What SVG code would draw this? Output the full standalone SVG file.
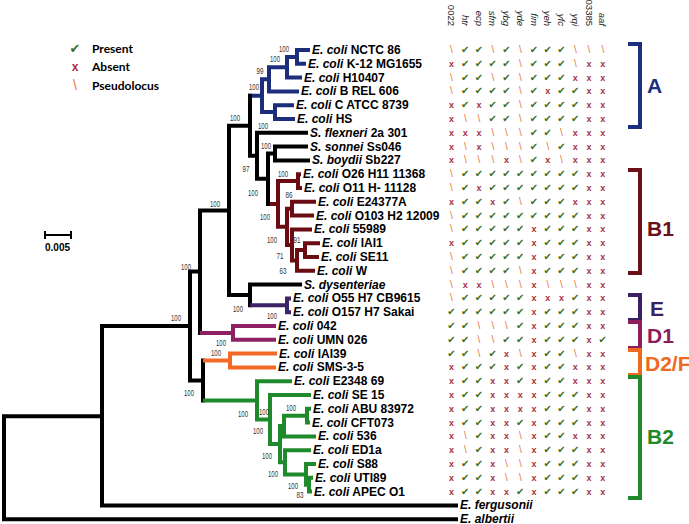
<svg xmlns="http://www.w3.org/2000/svg" width="689" height="524" viewBox="0 0 689 524">
<style>
.t{fill:none;stroke-width:4;stroke-linecap:square}
.k{stroke:#000}.bl{stroke:#1c2d7c}.mr{stroke:#6b0b12}.pu{stroke:#3d2366}.mg{stroke:#8e2163}.or{stroke:#f26a25}.gr{stroke:#1f8a2c}
.tl{font-family:"Liberation Sans",Arial,sans-serif;font-weight:bold;font-size:12px;fill:#000}
.bs{font-family:"Liberation Sans",Arial,sans-serif;font-size:9px;fill:#333;text-anchor:middle}
.m{text-anchor:middle;font-family:"DejaVu Sans",sans-serif;font-size:10px}
.g{font-family:"DejaVu Sans",sans-serif;font-size:10px;fill:#3f6f1f}
.r{font-family:"Liberation Sans",Arial,sans-serif;font-weight:bold;font-size:9px;fill:#a8323c}
.o{font-family:"Liberation Sans",Arial,sans-serif;font-size:10px;fill:#e8743b}
.hd{font-family:"Liberation Sans",Arial,sans-serif;font-size:9.5px;fill:#222;text-anchor:end}
.lg{font-family:"Lato","Liberation Sans",sans-serif;font-weight:bold;font-size:12px;fill:#000}
.br{fill:none;stroke-width:4}
.bt{font-family:"Liberation Sans",Arial,sans-serif;font-weight:bold;font-size:21px}
</style>
<g id="legend">
<text x="75" y="53" text-anchor="middle" style="font-family:'DejaVu Sans',sans-serif;font-size:13px;fill:#3f6f1f">✔</text><text class="lg" x="92" y="52.5">Present</text>
<text x="75" y="71" text-anchor="middle" style="font-family:'Liberation Sans',sans-serif;font-weight:bold;font-size:12px;fill:#a8323c">x</text><text class="lg" x="92" y="71">Absent</text>
<text x="75" y="90" text-anchor="middle" style="font-family:'Liberation Sans',sans-serif;font-size:14px;fill:#e8743b">\</text><text class="lg" x="92" y="89.5">Pseudolocus</text>
</g>
<g id="scale">
<path d="M45,235 H71 M45,231 V239 M71,231 V239" fill="none" stroke="#000" stroke-width="2"/>
<text x="45" y="251" style="font-family:'Liberation Sans',Arial,sans-serif;font-weight:bold;font-size:10px">0.005</text>
</g>
<g id="connectors">
<path class="t bl" d="M297,50 V63.8 M297,50 H308 M297,63.8 H304 M287,56.9 V77.6 M287,56.9 H297 M287,77.6 H300 M269,67.3 V91.4 M269,67.3 H287 M269,91.4 H297 M275,105.2 V119 M275,105.2 H292 M275,119 H293 M262,79.3 V112.1 M262,79.3 H269 M262,112.1 H275 M250,95.7 H262"/>
<path class="t k" d="M250,95.7 V155.8 M229,125.7 H250 M257,132.8 V178.7 M250,155.8 H257 M257,132.8 H306 M268,153.5 V204 M257,178.7 H268 M268,153.5 H275 M275,146.6 V160.4 M275,146.6 H306 M275,160.4 H308 M268,204 H272 M229,125.7 V295 M200,210.4 H229 M250,284.6 V305.3 M229,295 H250 M250,284.6 H300 M200,210.4 V332.9 M190,271.6 H200 M190,271.6 V380.4 M102,326 H190 M203,360.5 V400.4 M190,380.4 H203 M102,326 V505.4 M4,416.3 H102 M102,505.4 H456 M4,416.3 V519.2 M4,519.2 H456"/>
<path class="t mr" d="M272,204 H278 M278,181.1 V226.8 M278,181.1 H298 M278,226.8 H287 M298,174.2 V188 M298,174.2 H299 M298,188 H300 M287,208.7 V245 M287,208.7 H292 M287,245 H292 M292,201.8 V215.6 M292,201.8 H314 M292,215.6 H312 M292,229.4 V260.5 M292,229.4 H310 M292,260.5 H297 M297,250.1 V270.8 M297,250.1 H305 M297,270.8 H313 M305,243.2 V257 M305,243.2 H318 M305,257 H317"/>
<path class="t pu" d="M252,305.3 H287 M287,298.4 V312.2 M287,298.4 H289 M287,312.2 H289"/>
<path class="t mg" d="M202,332.9 H233 M233,326 V339.8 M233,326 H274 M233,339.8 H274"/>
<path class="t or" d="M205,360.5 H230 M230,353.6 V367.4 M230,353.6 H275 M230,367.4 H274"/>
<path class="t gr" d="M205,400.4 H257 M257,381.2 V419.5 M257,381.2 H290 M257,419.5 H270 M270,395 V444.1 M270,395 H309 M270,444.1 H280 M280,426 V462.3 M280,426 H284 M280,462.3 H285 M284,415.7 V436.4 M284,415.7 H307 M284,436.4 H314 M307,408.8 V422.6 M307,408.8 H309 M307,422.6 H308 M285,450.2 V474.4 M285,450.2 H309 M285,474.4 H306 M306,464 V484.7 M306,464 H314 M306,484.7 H309 M309,477.8 V491.6 M309,477.8 H311 M309,491.6 H310"/>
</g>
<g id="bootstrap">
<text class="bs" x="284" y="51.5" textLength="10" lengthAdjust="spacingAndGlyphs">100</text>
<text class="bs" x="275" y="61.5" textLength="10" lengthAdjust="spacingAndGlyphs">100</text>
<text class="bs" x="260" y="73.5" textLength="7" lengthAdjust="spacingAndGlyphs">99</text>
<text class="bs" x="254" y="89.5" textLength="10" lengthAdjust="spacingAndGlyphs">100</text>
<text class="bs" x="235" y="120.5" textLength="10" lengthAdjust="spacingAndGlyphs">100</text>
<text class="bs" x="263" y="128.5" textLength="10" lengthAdjust="spacingAndGlyphs">100</text>
<text class="bs" x="266" y="148.5" textLength="10" lengthAdjust="spacingAndGlyphs">100</text>
<text class="bs" x="246" y="171.5" textLength="7" lengthAdjust="spacingAndGlyphs">97</text>
<text class="bs" x="283" y="176.5" textLength="10" lengthAdjust="spacingAndGlyphs">100</text>
<text class="bs" x="253" y="195.5" textLength="10" lengthAdjust="spacingAndGlyphs">100</text>
<text class="bs" x="289" y="197.5" textLength="7" lengthAdjust="spacingAndGlyphs">86</text>
<text class="bs" x="215" y="206.5" textLength="10" lengthAdjust="spacingAndGlyphs">100</text>
<text class="bs" x="265" y="219.5" textLength="10" lengthAdjust="spacingAndGlyphs">100</text>
<text class="bs" x="272" y="242.5" textLength="10" lengthAdjust="spacingAndGlyphs">100</text>
<text class="bs" x="297" y="242.5" textLength="7" lengthAdjust="spacingAndGlyphs">91</text>
<text class="bs" x="280" y="258.5" textLength="7" lengthAdjust="spacingAndGlyphs">71</text>
<text class="bs" x="283" y="273.5" textLength="7" lengthAdjust="spacingAndGlyphs">63</text>
<text class="bs" x="186" y="269.5" textLength="10" lengthAdjust="spacingAndGlyphs">100</text>
<text class="bs" x="238" y="311.5" textLength="10" lengthAdjust="spacingAndGlyphs">100</text>
<text class="bs" x="272" y="319" textLength="10" lengthAdjust="spacingAndGlyphs">100</text>
<text class="bs" x="176" y="320.5" textLength="10" lengthAdjust="spacingAndGlyphs">100</text>
<text class="bs" x="221" y="345.5" textLength="10" lengthAdjust="spacingAndGlyphs">100</text>
<text class="bs" x="216" y="356" textLength="10" lengthAdjust="spacingAndGlyphs">100</text>
<text class="bs" x="189" y="395.5" textLength="10" lengthAdjust="spacingAndGlyphs">100</text>
<text class="bs" x="243" y="416.5" textLength="10" lengthAdjust="spacingAndGlyphs">100</text>
<text class="bs" x="264" y="414.5" textLength="10" lengthAdjust="spacingAndGlyphs">100</text>
<text class="bs" x="291" y="410.5" textLength="10" lengthAdjust="spacingAndGlyphs">100</text>
<text class="bs" x="258" y="433.5" textLength="10" lengthAdjust="spacingAndGlyphs">100</text>
<text class="bs" x="267" y="458.5" textLength="10" lengthAdjust="spacingAndGlyphs">100</text>
<text class="bs" x="273" y="476.5" textLength="10" lengthAdjust="spacingAndGlyphs">100</text>
<text class="bs" x="293" y="488.5" textLength="10" lengthAdjust="spacingAndGlyphs">100</text>
<text class="bs" x="300" y="497.5" textLength="7" lengthAdjust="spacingAndGlyphs">83</text>
</g>
<g id="taxa">
<text id="t1" class="tl" x="312" y="54"><tspan font-style="italic">E. coli</tspan> NCTC 86</text>
<text id="t2" class="tl" x="308" y="67.8"><tspan font-style="italic">E. coli</tspan> K-12 MG1655</text>
<text id="t3" class="tl" x="304" y="81.6"><tspan font-style="italic">E. coli</tspan> H10407</text>
<text id="t4" class="tl" x="301" y="95.4"><tspan font-style="italic">E. coli</tspan> B REL 606</text>
<text id="t5" class="tl" x="296" y="109.2"><tspan font-style="italic">E. coli</tspan> C ATCC 8739</text>
<text id="t6" class="tl" x="297" y="123"><tspan font-style="italic">E. coli</tspan> HS</text>
<text id="t7" class="tl" x="310" y="136.8"><tspan font-style="italic">S. flexneri</tspan> 2a 301</text>
<text id="t8" class="tl" x="310" y="150.6"><tspan font-style="italic">S. sonnei</tspan> Ss046</text>
<text id="t9" class="tl" x="312" y="164.4"><tspan font-style="italic">S. boydii</tspan> Sb227</text>
<text id="t10" class="tl" x="303" y="178.2"><tspan font-style="italic">E. coli</tspan> O26 H11 11368</text>
<text id="t11" class="tl" x="304" y="192"><tspan font-style="italic">E. coli</tspan> O11 H- 11128</text>
<text id="t12" class="tl" x="318" y="205.8"><tspan font-style="italic">E. coli</tspan> E24377A</text>
<text id="t13" class="tl" x="316" y="219.6"><tspan font-style="italic">E. coli</tspan> O103 H2 12009</text>
<text id="t14" class="tl" x="314" y="233.4"><tspan font-style="italic">E. coli</tspan> 55989</text>
<text id="t15" class="tl" x="322" y="247.2"><tspan font-style="italic">E. coli</tspan> IAI1</text>
<text id="t16" class="tl" x="321" y="261"><tspan font-style="italic">E. coli</tspan> SE11</text>
<text id="t17" class="tl" x="317" y="274.8"><tspan font-style="italic">E. coli</tspan> W</text>
<text id="t18" class="tl" x="304" y="288.6"><tspan font-style="italic">S. dysenteriae</tspan></text>
<text id="t19" class="tl" x="293" y="302.4"><tspan font-style="italic">E. coli</tspan> O55 H7 CB9615</text>
<text id="t20" class="tl" x="293" y="316.2"><tspan font-style="italic">E. coli</tspan> O157 H7 Sakai</text>
<text id="t21" class="tl" x="278" y="330"><tspan font-style="italic">E. coli</tspan> 042</text>
<text id="t22" class="tl" x="278" y="343.8"><tspan font-style="italic">E. coli</tspan> UMN 026</text>
<text id="t23" class="tl" x="279" y="357.6"><tspan font-style="italic">E. coli</tspan> IAI39</text>
<text id="t24" class="tl" x="278" y="371.4"><tspan font-style="italic">E. coli</tspan> SMS-3-5</text>
<text id="t25" class="tl" x="294" y="385.2"><tspan font-style="italic">E. coli</tspan> E2348 69</text>
<text id="t26" class="tl" x="313" y="399"><tspan font-style="italic">E. coli</tspan> SE 15</text>
<text id="t27" class="tl" x="313" y="412.8"><tspan font-style="italic">E. coli</tspan> ABU 83972</text>
<text id="t28" class="tl" x="312" y="426.6"><tspan font-style="italic">E. coli</tspan> CFT073</text>
<text id="t29" class="tl" x="318" y="440.4"><tspan font-style="italic">E. coli</tspan> 536</text>
<text id="t30" class="tl" x="313" y="454.2"><tspan font-style="italic">E. coli</tspan> ED1a</text>
<text id="t31" class="tl" x="318" y="468"><tspan font-style="italic">E. coli</tspan> S88</text>
<text id="t32" class="tl" x="315" y="481.8"><tspan font-style="italic">E. coli</tspan> UTI89</text>
<text id="t33" class="tl" x="314" y="495.6"><tspan font-style="italic">E. coli</tspan> APEC O1</text>
<text id="t34" class="tl" x="460" y="509.4"><tspan font-style="italic">E. fergusonii</tspan></text>
<text id="t35" class="tl" x="460" y="522.5"><tspan font-style="italic">E. albertii</tspan></text>
</g>
<g id="headers">
<text class="hd" transform="translate(448,26) rotate(90)">0022</text>
<text class="hd" transform="translate(461.8,26) rotate(90)" font-style="italic">htr</text>
<text class="hd" transform="translate(475.5,26) rotate(90)" font-style="italic">ecp</text>
<text class="hd" transform="translate(489.3,26) rotate(90)" font-style="italic">sfm</text>
<text class="hd" transform="translate(503,26) rotate(90)" font-style="italic">ybg</text>
<text class="hd" transform="translate(516.8,26) rotate(90)" font-style="italic">yde</text>
<text class="hd" transform="translate(530.5,26) rotate(90)" font-style="italic">fim</text>
<text class="hd" transform="translate(544.3,26) rotate(90)" font-style="italic">yeh</text>
<text class="hd" transform="translate(558,26) rotate(90)" font-style="italic">yfc</text>
<text class="hd" transform="translate(571.8,26) rotate(90)" font-style="italic">yqi</text>
<text class="hd" transform="translate(585.5,26) rotate(90)">03385</text>
<text class="hd" transform="translate(599.3,26) rotate(90)" font-style="italic">aaf</text>
</g>
<g id="matrix">
<text class="m" x="451.5 465.3 479 492.8 506.5 520.3 534 547.8 561.5 575.3 589 602.8" y="53"><tspan class="o">\</tspan><tspan class="g">✔</tspan><tspan class="g">✔</tspan><tspan class="o">\</tspan><tspan class="g">✔</tspan><tspan class="o">\</tspan><tspan class="g">✔</tspan><tspan class="g">✔</tspan><tspan class="g">✔</tspan><tspan class="o">\</tspan><tspan class="o">\</tspan><tspan class="o">\</tspan></text>
<text class="m" x="451.5 465.3 479 492.8 506.5 520.3 534 547.8 561.5 575.3 589 602.8" y="66.8"><tspan class="r">x</tspan><tspan class="g">✔</tspan><tspan class="g">✔</tspan><tspan class="g">✔</tspan><tspan class="g">✔</tspan><tspan class="o">\</tspan><tspan class="g">✔</tspan><tspan class="g">✔</tspan><tspan class="g">✔</tspan><tspan class="o">\</tspan><tspan class="r">x</tspan><tspan class="r">x</tspan></text>
<text class="m" x="451.5 465.3 479 492.8 506.5 520.3 534 547.8 561.5 575.3 589 602.8" y="80.6"><tspan class="o">\</tspan><tspan class="g">✔</tspan><tspan class="g">✔</tspan><tspan class="o">\</tspan><tspan class="g">✔</tspan><tspan class="o">\</tspan><tspan class="g">✔</tspan><tspan class="g">✔</tspan><tspan class="g">✔</tspan><tspan class="r">x</tspan><tspan class="r">x</tspan><tspan class="r">x</tspan></text>
<text class="m" x="451.5 465.3 479 492.8 506.5 520.3 534 547.8 561.5 575.3 589 602.8" y="94.4"><tspan class="o">\</tspan><tspan class="g">✔</tspan><tspan class="g">✔</tspan><tspan class="g">✔</tspan><tspan class="g">✔</tspan><tspan class="o">\</tspan><tspan class="g">✔</tspan><tspan class="r">x</tspan><tspan class="g">✔</tspan><tspan class="g">✔</tspan><tspan class="r">x</tspan><tspan class="r">x</tspan></text>
<text class="m" x="451.5 465.3 479 492.8 506.5 520.3 534 547.8 561.5 575.3 589 602.8" y="108.2"><tspan class="r">x</tspan><tspan class="g">✔</tspan><tspan class="r">x</tspan><tspan class="g">✔</tspan><tspan class="g">✔</tspan><tspan class="o">\</tspan><tspan class="g">✔</tspan><tspan class="g">✔</tspan><tspan class="g">✔</tspan><tspan class="g">✔</tspan><tspan class="r">x</tspan><tspan class="r">x</tspan></text>
<text class="m" x="451.5 465.3 479 492.8 506.5 520.3 534 547.8 561.5 575.3 589 602.8" y="122"><tspan class="r">x</tspan><tspan class="o">\</tspan><tspan class="o">\</tspan><tspan class="g">✔</tspan><tspan class="g">✔</tspan><tspan class="o">\</tspan><tspan class="g">✔</tspan><tspan class="g">✔</tspan><tspan class="g">✔</tspan><tspan class="g">✔</tspan><tspan class="r">x</tspan><tspan class="r">x</tspan></text>
<text class="m" x="451.5 465.3 479 492.8 506.5 520.3 534 547.8 561.5 575.3 589 602.8" y="135.8"><tspan class="r">x</tspan><tspan class="r">x</tspan><tspan class="r">x</tspan><tspan class="o">\</tspan><tspan class="o">\</tspan><tspan class="o">\</tspan><tspan class="g">✔</tspan><tspan class="g">✔</tspan><tspan class="o">\</tspan><tspan class="r">x</tspan><tspan class="r">x</tspan><tspan class="r">x</tspan></text>
<text class="m" x="451.5 465.3 479 492.8 506.5 520.3 534 547.8 561.5 575.3 589 602.8" y="149.6"><tspan class="r">x</tspan><tspan class="o">\</tspan><tspan class="r">x</tspan><tspan class="o">\</tspan><tspan class="o">\</tspan><tspan class="o">\</tspan><tspan class="g">✔</tspan><tspan class="o">\</tspan><tspan class="g">✔</tspan><tspan class="r">x</tspan><tspan class="r">x</tspan><tspan class="r">x</tspan></text>
<text class="m" x="451.5 465.3 479 492.8 506.5 520.3 534 547.8 561.5 575.3 589 602.8" y="163.4"><tspan class="r">x</tspan><tspan class="o">\</tspan><tspan class="o">\</tspan><tspan class="o">\</tspan><tspan class="r">x</tspan><tspan class="o">\</tspan><tspan class="g">✔</tspan><tspan class="r">x</tspan><tspan class="o">\</tspan><tspan class="r">x</tspan><tspan class="r">x</tspan><tspan class="r">x</tspan></text>
<text class="m" x="451.5 465.3 479 492.8 506.5 520.3 534 547.8 561.5 575.3 589 602.8" y="177.2"><tspan class="o">\</tspan><tspan class="g">✔</tspan><tspan class="g">✔</tspan><tspan class="g">✔</tspan><tspan class="g">✔</tspan><tspan class="g">✔</tspan><tspan class="g">✔</tspan><tspan class="g">✔</tspan><tspan class="g">✔</tspan><tspan class="g">✔</tspan><tspan class="r">x</tspan><tspan class="r">x</tspan></text>
<text class="m" x="451.5 465.3 479 492.8 506.5 520.3 534 547.8 561.5 575.3 589 602.8" y="191"><tspan class="o">\</tspan><tspan class="g">✔</tspan><tspan class="r">x</tspan><tspan class="g">✔</tspan><tspan class="g">✔</tspan><tspan class="g">✔</tspan><tspan class="g">✔</tspan><tspan class="g">✔</tspan><tspan class="g">✔</tspan><tspan class="g">✔</tspan><tspan class="r">x</tspan><tspan class="r">x</tspan></text>
<text class="m" x="451.5 465.3 479 492.8 506.5 520.3 534 547.8 561.5 575.3 589 602.8" y="204.8"><tspan class="r">x</tspan><tspan class="g">✔</tspan><tspan class="g">✔</tspan><tspan class="r">x</tspan><tspan class="g">✔</tspan><tspan class="o">\</tspan><tspan class="g">✔</tspan><tspan class="g">✔</tspan><tspan class="g">✔</tspan><tspan class="r">x</tspan><tspan class="r">x</tspan><tspan class="r">x</tspan></text>
<text class="m" x="451.5 465.3 479 492.8 506.5 520.3 534 547.8 561.5 575.3 589 602.8" y="218.6"><tspan class="o">\</tspan><tspan class="g">✔</tspan><tspan class="g">✔</tspan><tspan class="g">✔</tspan><tspan class="g">✔</tspan><tspan class="g">✔</tspan><tspan class="g">✔</tspan><tspan class="g">✔</tspan><tspan class="g">✔</tspan><tspan class="g">✔</tspan><tspan class="r">x</tspan><tspan class="r">x</tspan></text>
<text class="m" x="451.5 465.3 479 492.8 506.5 520.3 534 547.8 561.5 575.3 589 602.8" y="232.4"><tspan class="o">\</tspan><tspan class="g">✔</tspan><tspan class="g">✔</tspan><tspan class="g">✔</tspan><tspan class="g">✔</tspan><tspan class="g">✔</tspan><tspan class="r">x</tspan><tspan class="g">✔</tspan><tspan class="g">✔</tspan><tspan class="g">✔</tspan><tspan class="r">x</tspan><tspan class="r">x</tspan></text>
<text class="m" x="451.5 465.3 479 492.8 506.5 520.3 534 547.8 561.5 575.3 589 602.8" y="246.2"><tspan class="r">x</tspan><tspan class="g">✔</tspan><tspan class="g">✔</tspan><tspan class="g">✔</tspan><tspan class="g">✔</tspan><tspan class="g">✔</tspan><tspan class="r">x</tspan><tspan class="g">✔</tspan><tspan class="g">✔</tspan><tspan class="g">✔</tspan><tspan class="r">x</tspan><tspan class="r">x</tspan></text>
<text class="m" x="451.5 465.3 479 492.8 506.5 520.3 534 547.8 561.5 575.3 589 602.8" y="260"><tspan class="o">\</tspan><tspan class="g">✔</tspan><tspan class="g">✔</tspan><tspan class="g">✔</tspan><tspan class="g">✔</tspan><tspan class="g">✔</tspan><tspan class="r">x</tspan><tspan class="g">✔</tspan><tspan class="g">✔</tspan><tspan class="g">✔</tspan><tspan class="r">x</tspan><tspan class="r">x</tspan></text>
<text class="m" x="451.5 465.3 479 492.8 506.5 520.3 534 547.8 561.5 575.3 589 602.8" y="273.8"><tspan class="o">\</tspan><tspan class="g">✔</tspan><tspan class="g">✔</tspan><tspan class="g">✔</tspan><tspan class="g">✔</tspan><tspan class="o">\</tspan><tspan class="r">x</tspan><tspan class="g">✔</tspan><tspan class="g">✔</tspan><tspan class="g">✔</tspan><tspan class="r">x</tspan><tspan class="r">x</tspan></text>
<text class="m" x="451.5 465.3 479 492.8 506.5 520.3 534 547.8 561.5 575.3 589 602.8" y="287.6"><tspan class="o">\</tspan><tspan class="r">x</tspan><tspan class="r">x</tspan><tspan class="o">\</tspan><tspan class="o">\</tspan><tspan class="o">\</tspan><tspan class="r">x</tspan><tspan class="o">\</tspan><tspan class="o">\</tspan><tspan class="o">\</tspan><tspan class="r">x</tspan><tspan class="r">x</tspan></text>
<text class="m" x="451.5 465.3 479 492.8 506.5 520.3 534 547.8 561.5 575.3 589 602.8" y="301.4"><tspan class="o">\</tspan><tspan class="g">✔</tspan><tspan class="g">✔</tspan><tspan class="g">✔</tspan><tspan class="g">✔</tspan><tspan class="g">✔</tspan><tspan class="r">x</tspan><tspan class="r">x</tspan><tspan class="r">x</tspan><tspan class="g">✔</tspan><tspan class="r">x</tspan><tspan class="r">x</tspan></text>
<text class="m" x="451.5 465.3 479 492.8 506.5 520.3 534 547.8 561.5 575.3 589 602.8" y="315.2"><tspan class="g">✔</tspan><tspan class="g">✔</tspan><tspan class="g">✔</tspan><tspan class="g">✔</tspan><tspan class="g">✔</tspan><tspan class="g">✔</tspan><tspan class="r">x</tspan><tspan class="g">✔</tspan><tspan class="g">✔</tspan><tspan class="g">✔</tspan><tspan class="r">x</tspan><tspan class="r">x</tspan></text>
<text class="m" x="451.5 465.3 479 492.8 506.5 520.3 534 547.8 561.5 575.3 589 602.8" y="329"><tspan class="g">✔</tspan><tspan class="g">✔</tspan><tspan class="o">\</tspan><tspan class="o">\</tspan><tspan class="o">\</tspan><tspan class="g">✔</tspan><tspan class="r">x</tspan><tspan class="g">✔</tspan><tspan class="g">✔</tspan><tspan class="g">✔</tspan><tspan class="r">x</tspan><tspan class="r">x</tspan></text>
<text class="m" x="451.5 465.3 479 492.8 506.5 520.3 534 547.8 561.5 575.3 589 602.8" y="342.8"><tspan class="g">✔</tspan><tspan class="g">✔</tspan><tspan class="o">\</tspan><tspan class="o">\</tspan><tspan class="g">✔</tspan><tspan class="g">✔</tspan><tspan class="r">x</tspan><tspan class="g">✔</tspan><tspan class="g">✔</tspan><tspan class="g">✔</tspan><tspan class="r">x</tspan><tspan class="g">✔</tspan></text>
<text class="m" x="451.5 465.3 479 492.8 506.5 520.3 534 547.8 561.5 575.3 589 602.8" y="356.6"><tspan class="g">✔</tspan><tspan class="g">✔</tspan><tspan class="o">\</tspan><tspan class="g">✔</tspan><tspan class="r">x</tspan><tspan class="o">\</tspan><tspan class="r">x</tspan><tspan class="g">✔</tspan><tspan class="g">✔</tspan><tspan class="o">\</tspan><tspan class="r">x</tspan><tspan class="r">x</tspan></text>
<text class="m" x="451.5 465.3 479 492.8 506.5 520.3 534 547.8 561.5 575.3 589 602.8" y="370.4"><tspan class="r">x</tspan><tspan class="g">✔</tspan><tspan class="g">✔</tspan><tspan class="g">✔</tspan><tspan class="r">x</tspan><tspan class="g">✔</tspan><tspan class="r">x</tspan><tspan class="g">✔</tspan><tspan class="g">✔</tspan><tspan class="r">x</tspan><tspan class="r">x</tspan><tspan class="r">x</tspan></text>
<text class="m" x="451.5 465.3 479 492.8 506.5 520.3 534 547.8 561.5 575.3 589 602.8" y="384.2"><tspan class="r">x</tspan><tspan class="g">✔</tspan><tspan class="g">✔</tspan><tspan class="r">x</tspan><tspan class="r">x</tspan><tspan class="g">✔</tspan><tspan class="r">x</tspan><tspan class="g">✔</tspan><tspan class="g">✔</tspan><tspan class="r">x</tspan><tspan class="r">x</tspan><tspan class="r">x</tspan></text>
<text class="m" x="451.5 465.3 479 492.8 506.5 520.3 534 547.8 561.5 575.3 589 602.8" y="398"><tspan class="r">x</tspan><tspan class="g">✔</tspan><tspan class="g">✔</tspan><tspan class="r">x</tspan><tspan class="r">x</tspan><tspan class="r">x</tspan><tspan class="r">x</tspan><tspan class="g">✔</tspan><tspan class="g">✔</tspan><tspan class="g">✔</tspan><tspan class="r">x</tspan><tspan class="r">x</tspan></text>
<text class="m" x="451.5 465.3 479 492.8 506.5 520.3 534 547.8 561.5 575.3 589 602.8" y="411.8"><tspan class="r">x</tspan><tspan class="g">✔</tspan><tspan class="g">✔</tspan><tspan class="r">x</tspan><tspan class="r">x</tspan><tspan class="r">x</tspan><tspan class="r">x</tspan><tspan class="g">✔</tspan><tspan class="g">✔</tspan><tspan class="g">✔</tspan><tspan class="r">x</tspan><tspan class="r">x</tspan></text>
<text class="m" x="451.5 465.3 479 492.8 506.5 520.3 534 547.8 561.5 575.3 589 602.8" y="425.6"><tspan class="r">x</tspan><tspan class="g">✔</tspan><tspan class="g">✔</tspan><tspan class="r">x</tspan><tspan class="r">x</tspan><tspan class="g">✔</tspan><tspan class="r">x</tspan><tspan class="g">✔</tspan><tspan class="g">✔</tspan><tspan class="g">✔</tspan><tspan class="r">x</tspan><tspan class="r">x</tspan></text>
<text class="m" x="451.5 465.3 479 492.8 506.5 520.3 534 547.8 561.5 575.3 589 602.8" y="439.4"><tspan class="r">x</tspan><tspan class="o">\</tspan><tspan class="g">✔</tspan><tspan class="r">x</tspan><tspan class="r">x</tspan><tspan class="o">\</tspan><tspan class="r">x</tspan><tspan class="g">✔</tspan><tspan class="g">✔</tspan><tspan class="r">x</tspan><tspan class="r">x</tspan><tspan class="r">x</tspan></text>
<text class="m" x="451.5 465.3 479 492.8 506.5 520.3 534 547.8 561.5 575.3 589 602.8" y="453.2"><tspan class="r">x</tspan><tspan class="o">\</tspan><tspan class="g">✔</tspan><tspan class="r">x</tspan><tspan class="r">x</tspan><tspan class="o">\</tspan><tspan class="r">x</tspan><tspan class="g">✔</tspan><tspan class="g">✔</tspan><tspan class="g">✔</tspan><tspan class="r">x</tspan><tspan class="r">x</tspan></text>
<text class="m" x="451.5 465.3 479 492.8 506.5 520.3 534 547.8 561.5 575.3 589 602.8" y="467"><tspan class="r">x</tspan><tspan class="g">✔</tspan><tspan class="g">✔</tspan><tspan class="r">x</tspan><tspan class="o">\</tspan><tspan class="o">\</tspan><tspan class="r">x</tspan><tspan class="g">✔</tspan><tspan class="g">✔</tspan><tspan class="g">✔</tspan><tspan class="r">x</tspan><tspan class="r">x</tspan></text>
<text class="m" x="451.5 465.3 479 492.8 506.5 520.3 534 547.8 561.5 575.3 589 602.8" y="480.8"><tspan class="r">x</tspan><tspan class="g">✔</tspan><tspan class="g">✔</tspan><tspan class="r">x</tspan><tspan class="o">\</tspan><tspan class="o">\</tspan><tspan class="r">x</tspan><tspan class="g">✔</tspan><tspan class="g">✔</tspan><tspan class="g">✔</tspan><tspan class="r">x</tspan><tspan class="r">x</tspan></text>
<text class="m" x="451.5 465.3 479 492.8 506.5 520.3 534 547.8 561.5 575.3 589 602.8" y="494.6"><tspan class="r">x</tspan><tspan class="g">✔</tspan><tspan class="g">✔</tspan><tspan class="r">x</tspan><tspan class="r">x</tspan><tspan class="g">✔</tspan><tspan class="r">x</tspan><tspan class="g">✔</tspan><tspan class="g">✔</tspan><tspan class="g">✔</tspan><tspan class="r">x</tspan><tspan class="r">x</tspan></text>
</g>
<g id="groupA"><path class="br" stroke="#1b2f80" d="M628,44 H640 V127 H628"/><text class="bt" x="647" y="92.5" fill="#1b2f80">A</text></g>
<g id="groupB1"><path class="br" stroke="#6d0f17" d="M628,170 H640 V273 H628"/><text class="bt" x="647" y="235.5" fill="#6d0f17">B1</text></g>
<g id="groupE"><path class="br" stroke="#3d2063" d="M628,295 H640 V320 H628"/><text class="bt" x="650" y="315.5" fill="#3d2063">E</text></g>
<g id="groupD1"><path class="br" stroke="#8e1e5b" d="M628,322 H640 V348 H628"/><text class="bt" x="647" y="342.5" fill="#8e1e5b">D1</text></g>
<g id="groupD2F"><path class="br" stroke="#ef6a21" d="M628,350 H640 V375 H628"/><text class="bt" x="645" y="370.5" fill="#ef6a21">D2/F</text></g>
<g id="groupB2"><path class="br" stroke="#1f8a2a" d="M628,377 H640 V498 H628"/><text class="bt" x="647" y="443.5" fill="#1f8a2a">B2</text></g>
</svg>
